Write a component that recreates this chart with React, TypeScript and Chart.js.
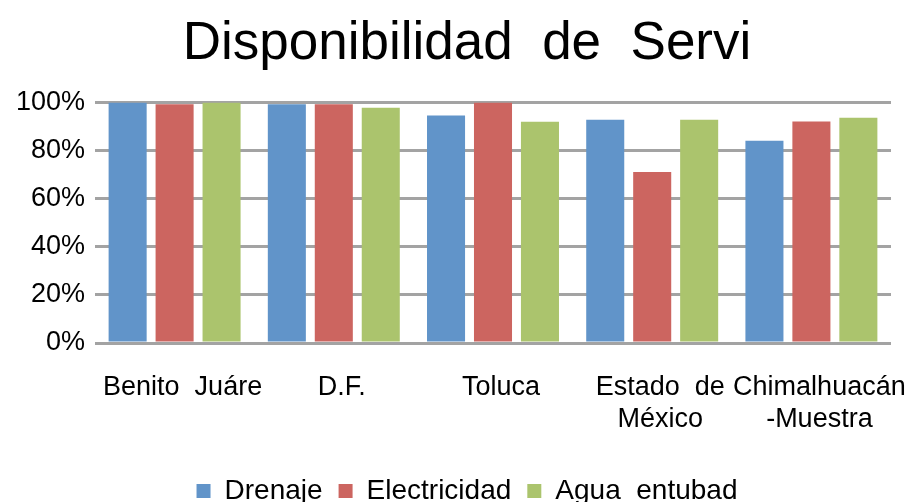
import React, { useEffect, useRef } from "react";
import { Chart, registerables } from "chart.js";

Chart.register(...registerables);

const TITLE = "Disponibilidad  de  Servi";
const categories: (string | string[])[] = [
  "Benito  Juáre",
  "D.F.",
  "Toluca",
  ["Estado  de", "México"],
  ["Chimalhuacán", "-Muestra"],
];
const seriesNames = ["Drenaje", "Electricidad", "Agua  entubad"];
const drenaje = [100, 99.3, 94.6, 92.9, 84.1];
const electricidad = [99.3, 99.3, 100, 71.1, 92.1];
const agua = [100, 97.9, 92.0, 92.9, 93.7];
const yTicks = [0, 20, 40, 60, 80, 100];
const colors = ["#6194C9", "#CC6560", "#ABC46D"];

const FONT = "'Liberation Sans', Arial, sans-serif";

export default function App() {
  const ref = useRef<HTMLCanvasElement | null>(null);
  useEffect(() => {
    if (!ref.current) return;
    const values = [drenaje, electricidad, agua];
    const chart = new Chart(ref.current, {
      type: "bar",
      data: {
        labels: categories,
        datasets: seriesNames.map((name, i) => ({
          label: name,
          data: values[i],
          backgroundColor: colors[i],
          borderWidth: 0,
          barPercentage: 0.81,
          categoryPercentage: 0.885,
        })),
      },
      options: {
        animation: false,
        responsive: true,
        maintainAspectRatio: false,
        layout: { padding: { left: 43, right: 21, top: 0, bottom: -13 } },
        plugins: {
          title: {
            display: true,
            text: TITLE,
            color: "#000",
            font: { family: FONT, size: 53, weight: "normal", lineHeight: 1.2 },
            padding: { top: 13, bottom: 26 },
          },
          legend: {
            position: "bottom",
            labels: {
              color: "#000",
              font: { family: FONT, size: 28, lineHeight: 1.2 },
              boxWidth: 14,
              boxHeight: 14,
              padding: 16,
            },
          },
          tooltip: { enabled: false },
        },
        scales: {
          x: {
            grid: { display: false, drawTicks: false },
            border: { display: false },
            ticks: {
              color: "#000",
              font: { family: FONT, size: 27, lineHeight: 1.2 },
              maxRotation: 0,
              minRotation: 0,
              autoSkip: false,
              padding: 28,
              labelOffset: 8,
            },
            afterFit: (s: any) => {
              s.paddingLeft = 0;
              s.paddingRight = 0;
              s.height = 118;
              s._computeLabelArea = () => undefined;
            },
          },
          y: {
            min: 0,
            max: 100,
            afterBuildTicks: (s: any) => {
              s.ticks = yTicks.map((v) => ({ value: v }));
            },
            grid: {
              color: "#A3A3A3",
              lineWidth: 3,
              drawTicks: false,
            },
            border: { display: false },
            ticks: {
              color: "#000",
              font: { family: FONT, size: 27 },
              padding: 10,
              callback: (v: any) => v + "%",
            },
            afterFit: (s: any) => {
              s.width = 52;
              s.paddingTop = 0;
              s._computeLabelArea = () => undefined;
            },
          },
        },
      },
    });
    return () => chart.destroy();
  }, []);
  return (
    <div style={{ position: "absolute", left: 0, top: 0, width: 912, height: 502, background: "#fff" }}>
      <canvas ref={ref} />
    </div>
  );
}
